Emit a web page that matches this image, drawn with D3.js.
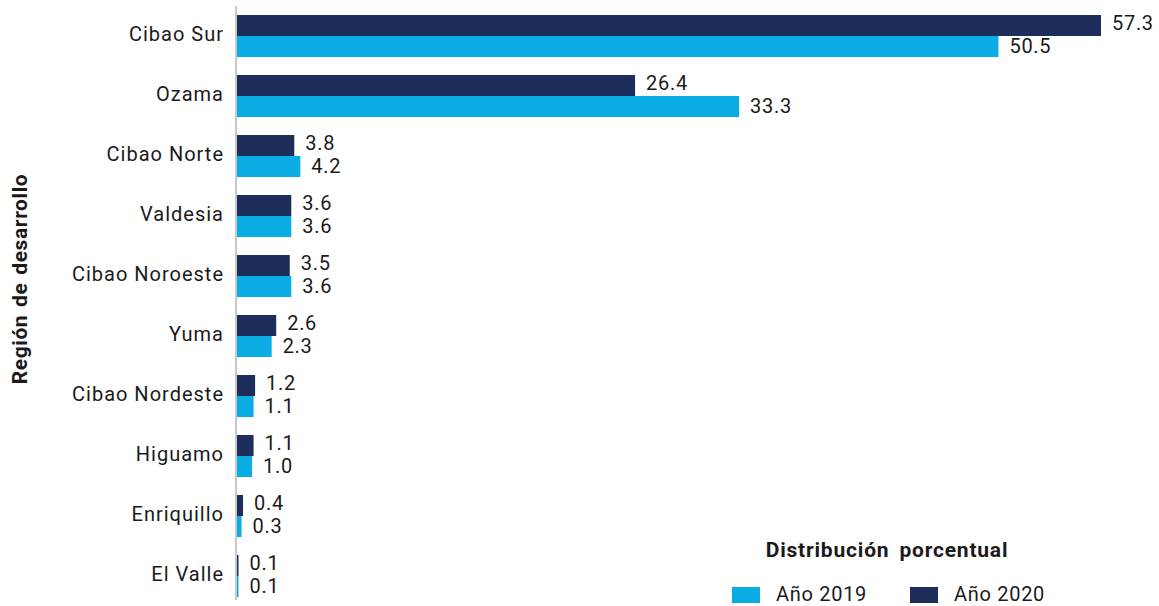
<!DOCTYPE html>
<html>
<head>
<meta charset="utf-8">
<script src="https://cdn.jsdelivr.net/npm/d3@7"></script>
<style>
  body { margin: 0; background: #fff; }
  text { font-family: Roboto, "Noto Sans", sans-serif; fill: #1a1a1a; letter-spacing: 0.7px; }
  .cat { letter-spacing: 1px; }
</style>
</head>
<body>
<div id="chart"></div>
<script>
var regions = ['Cibao Sur', 'Ozama', 'Cibao Norte', 'Valdesia', 'Cibao Noroeste', 'Yuma', 'Cibao Nordeste', 'Higuamo', 'Enriquillo', 'El Valle']
var values2020 = [57.3, 26.4, 3.8, 3.6, 3.5, 2.6, 1.2, 1.1, 0.4, 0.1]
var values2019 = [50.5, 33.3, 4.2, 3.6, 3.6, 2.3, 1.1, 1.0, 0.3, 0.1]
var years = ['Año 2019', 'Año 2020']
var colors = ['#09ade4', '#1e2e5a']

var width = 1159
var height = 606
var left = 237

var svg = d3.select('#chart').append('svg').attr('width', width).attr('height', height)

var y = d3.scaleBand().domain(regions).range([6, 606]).paddingInner(0.3).paddingOuter(0.15)
var x = d3.scaleLinear().domain([0, 57.3]).range([left, 1101])

var rows = regions.map(function(r, i) { return {region: r, v2020: values2020[i], v2019: values2019[i]} })

var bh = y.bandwidth() / 2

var g = svg.append('g')

// dark bars (2020) on top, light bars (2019) below
g.selectAll('.b2020').data(rows).join('rect')
  .attr('class', 'b2020')
  .attr('x', x(0))
  .attr('y', d => y(d.region))
  .attr('width', d => x(d.v2020) - x(0))
  .attr('height', bh)
  .attr('fill', colors[1])

g.selectAll('.b2019').data(rows).join('rect')
  .attr('class', 'b2019')
  .attr('x', x(0))
  .attr('y', d => y(d.region) + bh)
  .attr('width', d => x(d.v2019) - x(0))
  .attr('height', bh)
  .attr('fill', colors[0])

g.selectAll('.l2020').data(rows).join('text')
  .attr('x', d => x(d.v2020) + 11)
  .attr('y', d => y(d.region) + bh / 2 + 4)
  .attr('font-size', 20)
  .text(d => d.v2020.toFixed(1))

g.selectAll('.l2019').data(rows).join('text')
  .attr('x', d => x(d.v2019) + 11)
  .attr('y', d => y(d.region) + bh * 1.5 + 6)
  .attr('font-size', 20)
  .text(d => d.v2019.toFixed(1))

// axis line
svg.append('line')
  .attr('x1', left - 1).attr('x2', left - 1)
  .attr('y1', 6).attr('y2', 600)
  .attr('stroke', '#c8c8c8').attr('stroke-width', 2)

svg.selectAll('.cat').data(regions).join('text')
  .attr('class', 'cat')
  .attr('x', left - 13)
  .attr('y', d => y(d) + y.bandwidth() / 2 + 5)
  .attr('text-anchor', 'end')
  .attr('font-size', 20)
  .text(d => d)

svg.append('text')
  .attr('transform', 'translate(27,279) rotate(-90)')
  .attr('text-anchor', 'middle')
  .attr('font-size', 21)
  .attr('font-weight', 'bold')
  .attr('word-spacing', 2)
  .style('letter-spacing', '0.6px')
  .text('Región de desarrollo')

// legend
svg.append('text')
  .attr('x', 887).attr('y', 557)
  .attr('text-anchor', 'middle')
  .attr('font-size', 21)
  .attr('font-weight', 'bold')
  .attr('word-spacing', 4)
  .style('letter-spacing', '0.8px')
  .text('Distribución porcentual')

var leg = svg.selectAll('.leg').data(years).join('g')
  .attr('transform', (d, i) => 'translate(' + (732 + i * 178) + ',587)')
leg.append('rect').attr('width', 28).attr('height', 16).attr('fill', (d, i) => colors[i])
leg.append('text').attr('x', 44).attr('y', 14).attr('font-size', 20).text(d => d)
</script>
</body>
</html>
